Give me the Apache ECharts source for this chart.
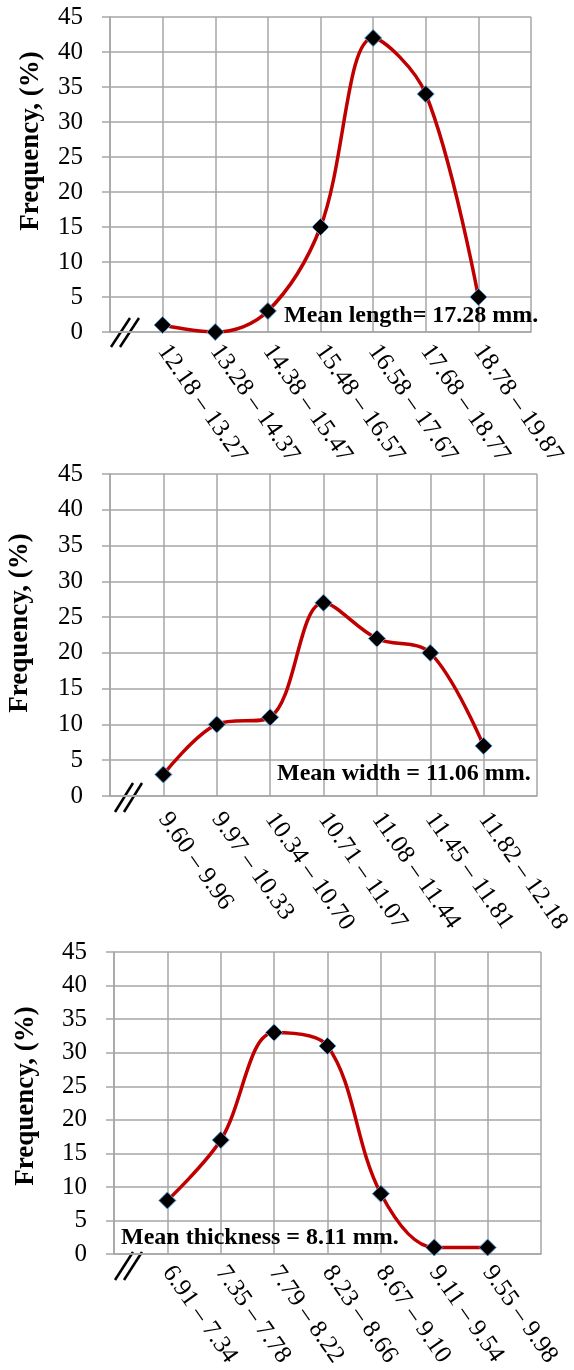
<!DOCTYPE html>
<html><head><meta charset="utf-8">
<script src="https://cdn.jsdelivr.net/npm/echarts@6/dist/echarts.min.js"></script>
<style>html,body{margin:0;padding:0;background:#fff}#c{width:574px;height:1370px}</style>
</head><body><div id="c"></div>
<script>
// ---- data ----
const lengthClasses = ['12.18 – 13.27','13.28 – 14.37','14.38 – 15.47','15.48 – 16.57','16.58 – 17.67','17.68 – 18.77','18.78 – 19.87'];
const lengthFreq = [1, 0, 3, 15, 42, 34, 5];
const widthClasses = ['9.60 – 9.96','9.97 – 10.33','10.34 – 10.70','10.71 – 11.07','11.08 – 11.44','11.45 – 11.81','11.82 – 12.18'];
const widthFreq = [3, 10, 11, 27, 22, 20, 7];
const thickClasses = ['6.91 – 7.34','7.35 – 7.78','7.79 – 8.22','8.23 – 8.66','8.67 – 9.10','9.11 – 9.54','9.55 – 9.98'];
const thickFreq = [8, 17, 33, 31, 9, 1, 1];
const yMin = 0, yMax = 45, yStep = 5;
const yTitle = 'Frequency, (%)';
const meanTexts = ['Mean length= 17.28 mm.', 'Mean width = 11.06 mm.', 'Mean thickness = 8.11 mm.'];

// ---- styling ----
const FONT = '"Times New Roman", "Liberation Serif", serif';
const GRID_C = '#a6a6a6';
const grids = [
  {left:110, top:17, width:421, height:315},
  {left:110, top:474, width:427, height:322},
  {left:114, top:952, width:427, height:310}
];
const labelMargins = [15, 19, 14];
const cats = [lengthClasses, widthClasses, thickClasses];
const vals = [lengthFreq, widthFreq, thickFreq];

const xAxis = [], yAxis = [], series = [];
cats.forEach((c, i) => {
  xAxis.push({
    type:'category', gridIndex:i, boundaryGap:false,
    data:[''].concat(c, ['']),
    axisLine:{show:true, lineStyle:{color:GRID_C, width:1.5}},
    axisTick:{show:false},
    splitLine:{show:true, interval:0, lineStyle:{color:GRID_C, width:1.5}},
    axisLabel:{interval:0, rotate:-55, margin:labelMargins[i], color:'#000', fontSize:25, fontFamily:FONT}
  });
  yAxis.push({
    type:'value', gridIndex:i, min:yMin, max:yMax, interval:yStep,
    axisLine:{show:true, lineStyle:{color:GRID_C, width:1.5}},
    axisTick:{show:true, length:8, lineStyle:{color:GRID_C, width:1.5}},
    splitLine:{show:true, lineStyle:{color:GRID_C, width:1.5}},
    axisLabel:{margin:27, color:'#000', fontSize:25, fontFamily:FONT}
  });
  series.push({
    type:'line', xAxisIndex:i, yAxisIndex:i, smooth:0.35,
    data:['-'].concat(vals[i], ['-']),
    symbol:'diamond', symbolSize:17,
    itemStyle:{color:'#000', borderColor:'#5b9bd5', borderWidth:1},
    lineStyle:{color:'#c00000', width:3.5},
    z:3
  });
});

const yTitlePos = [[31,141], [20,623], [26,1096]];
const meanPos = [[284,316], [277,774], [121,1238]];
const breakPos = [[111,347,130,318],[115,812,133,783],[115,1280,133,1252]];
const graphic = [];
for (let i = 0; i < 3; i++) {
  graphic.push({
    type:'text', x:yTitlePos[i][0], y:yTitlePos[i][1], rotation:Math.PI/2,
    style:{text:yTitle, align:'center', verticalAlign:'middle', textAlign:'center', textVerticalAlign:'middle',
      font:'bold 27px ' + FONT, fill:'#000'}
  });
  graphic.push({
    type:'text', x:meanPos[i][0], y:meanPos[i][1], z:10,
    style:{text:meanTexts[i], align:'left', verticalAlign:'middle', textAlign:'left', textVerticalAlign:'middle',
      font:'bold 24px ' + FONT, fill:'#000'}
  });
  const b = breakPos[i];
  [0, 9].forEach(d => {
    graphic.push({type:'line', shape:{x1:b[0]+d, y1:b[1], x2:b[2]+d, y2:b[3]},
      style:{stroke:'#000', lineWidth:2.5}});
  });
}

const chart = echarts.init(document.getElementById('c'));
chart.setOption({
  animation:false,
  backgroundColor:'#fff',
  grid:grids,
  xAxis:xAxis, yAxis:yAxis, series:series,
  graphic:graphic
});
</script></body></html>
